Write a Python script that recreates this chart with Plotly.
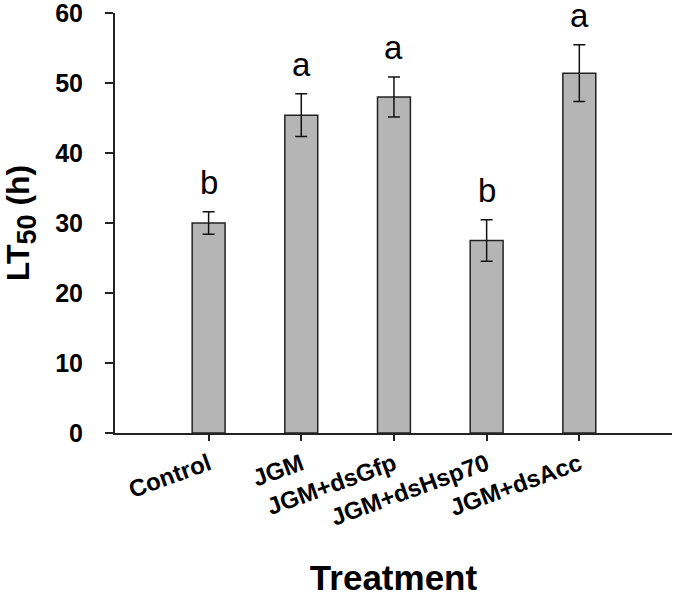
import plotly.graph_objects as go

categories = ["Control", "JGM", "JGM+dsGfp", "JGM+dsHsp70", "JGM+dsAcc"]
lt50 = [30.0, 45.4, 48.0, 27.5, 51.4]
err = [1.6, 3.05, 2.85, 2.95, 4.05]
letters = ["b", "a", "a", "b", "a"]

xpos = list(range(len(categories)))
FONT = "Arial, Liberation Sans"

fig = go.Figure()
fig.add_trace(go.Bar(
    x=xpos, y=lt50, width=0.355,
    marker=dict(color="#b5b5b5", line=dict(color="#222222", width=1.5)),
    error_y=dict(type="data", array=err, visible=True, color="#111111", thickness=1.5, width=6),
))

for x, v, e, t in zip(xpos, lt50, err, letters):
    fig.add_annotation(x=x, y=v + e, text=t, showarrow=False, yanchor="bottom", yshift=10,
                       borderpad=0, font=dict(family=FONT, size=33, color="black"))

fig.update_layout(
    width=675, height=597,
    margin=dict(l=115, r=3, t=13, b=164),
    plot_bgcolor="white", paper_bgcolor="white",
    showlegend=False,
    font=dict(family=FONT, color="black"),
    xaxis=dict(
        range=[-1.01, 5.0], tickmode="array", tickvals=xpos, ticktext=categories,
        tickangle=-20, ticks="outside", ticklen=6, tickwidth=1.5, tickcolor="#222",
        showline=True, linecolor="#222", linewidth=2, showgrid=False, zeroline=False,
        automargin=False, ticklabeloverflow="allow",
        tickfont=dict(size=24, family=FONT, weight="bold"),
        title=dict(text="<b>Treatment</b>", font=dict(size=35), standoff=37),
    ),
    yaxis=dict(
        range=[0, 60], tickvals=[0, 10, 20, 30, 40, 50, 60],
        ticks="outside", ticklen=8, tickwidth=1.5, tickcolor="#222",
        showline=True, linecolor="#222", linewidth=2, showgrid=False, zeroline=False,
        automargin=False, ticklabelstandoff=17, ticklabeloverflow="allow",
        tickfont=dict(size=25, family=FONT, weight="bold"),
        title=dict(text="<b>LT<sub><span style='font-size:27px'>50</span></sub> (h)</b>",
                   font=dict(size=32), standoff=26),
    ),
)

fig.write_html("out.html", config={"displayModeBar": False},
               post_script="document.body.style.margin='0';document.body.style.padding='0';")
